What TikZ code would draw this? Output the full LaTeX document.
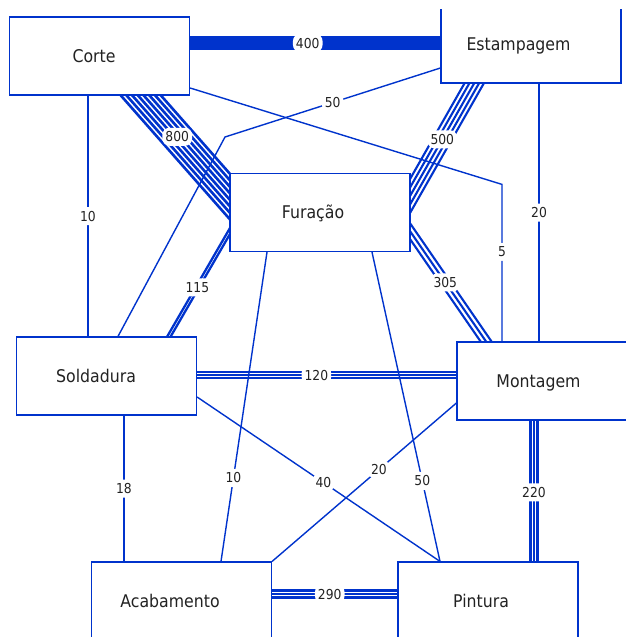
\documentclass[tikz,border=0pt]{standalone}
\usepackage{fontspec}
\setmainfont{DejaVu Sans}[FakeStretch=0.9]
\usetikzlibrary{calc,backgrounds}

\definecolor{edgeblue}{RGB}{0,51,204}
\definecolor{txt}{RGB}{34,34,34}

% n parallel lines between two points, with a white label
\newcommand{\bundle}[7]{%
    \coordinate (ea) at ($(#1)!-20pt!(#2)$);
    \coordinate (eb) at ($(#2)!-20pt!(#1)$);
    \foreach \k in {1,...,#3}{
        \pgfmathsetmacro{\bandoff}{(\k-(#3+1)/2)*#4}
        \draw[band, line width=#5pt] ($(ea)!\bandoff pt!90:(eb)$) -- ($(eb)!\bandoff pt!-90:(ea)$);
    }
    \path (#1) -- node[wlabel, pos=#7] {#6} (#2);
}

\begin{document}
\begin{tikzpicture}[x=1pt, y=-1pt,
    box/.style={draw=edgeblue, line width=1.2pt, fill=white, minimum width=180pt,
        minimum height=78pt, inner sep=0pt},
    nodetxt/.style={text=txt, font=\fontsize{17.5}{21}\selectfont, text height=12.8pt, text depth=0pt},
    wlabel/.style={fill=white, text=txt, font=\fontsize{13.7}{16}\selectfont, text height=10pt,
        text depth=0pt, inner xsep=3pt, inner ysep=4pt, rounded corners=7pt},
    link/.style={draw=edgeblue, line width=1.4pt},
    band/.style={draw=edgeblue},]
    \useasboundingbox (0,0) rectangle (626,637);
    \clip (0,9) rectangle (626,637);
    %\draw (0,0) rectangle (626,637);

    \node[box, label={[nodetxt, xshift=-5.5pt]center:Corte}] (corte) at (99.5,56) {};
    \node[box, label={[nodetxt, xshift=-12.5pt]center:Estampagem}] (estampagem) at (531,44) {};
    \node[box, label={[nodetxt, xshift=-7pt]center:Furação}] (furacao) at (320,212.5) {};
    \node[box, label={[nodetxt, xshift=-10.5pt]center:Soldadura}] (soldadura) at (106.5,376) {};
    \node[box, label={[nodetxt, xshift=-8.5pt]center:Montagem}] (montagem) at (547,381) {};
    \node[box, label={[nodetxt, xshift=-11.5pt]center:Acabamento}] (acabamento) at (181.5,601) {};
    \node[box, label={[nodetxt, xshift=-7pt]center:Pintura}] (pintura) at (488,601) {};

    % ends of the bundles
    \coordinate (c-e) at ($(corte.east)+(0,-13)$);
    \coordinate (e-c) at (c-e -| estampagem.west);
    \coordinate (c-f) at ($(corte.south)+(41.5,0)$);
    \coordinate (f-c) at ($(furacao.west)+(0,-16.5)$);
    \coordinate (e-f) at ($(estampagem.south)+(-57,0)$);
    \coordinate (f-e) at ($(furacao.east)+(0,-17.5)$);
    \coordinate (f-m) at ($(furacao.east)+(0,19.5)$);
    \coordinate (m-f) at ($(montagem.north)+(-61,0)$);
    \coordinate (f-s) at ($(furacao.west)+(0,19.5)$);
    \coordinate (s-f) at ($(soldadura.north)+(62.5,0)$);
    \coordinate (s-m) at ($(soldadura.east)+(0,-1)$);
    \coordinate (m-s) at (s-m -| montagem.west);
    \coordinate (m-p) at ($(montagem.south)+(-13,0)$);
    \coordinate (p-m) at (m-p |- pintura.north);
    \coordinate (a-p) at ($(acabamento.east)+(0,-7)$);
    \coordinate (p-a) at (a-p -| pintura.west);

    % ends of the single lines
    \coordinate (c-s) at ($(corte.south)+(-11.5,0)$);
    \coordinate (s-c) at (c-s |- soldadura.north);
    \coordinate (c-m) at ($(corte.east)+(0,32)$);
    \coordinate (m-c) at ($(montagem.north)+(-45,0)$);
    \coordinate (cm-bend) at ($(m-c)+(0,-157)$);
    \coordinate (e-s) at ($(estampagem.west)+(0,24)$);
    \coordinate (s-e) at ($(soldadura.north)+(11.5,0)$);
    \coordinate (es-bend) at (225,137);
    \coordinate (e-m) at ($(estampagem.south)+(8,0)$);
    \coordinate (m-e) at (e-m |- montagem.north);
    \coordinate (f-a) at ($(furacao.south)+(-53,0)$);
    \coordinate (a-f) at ($(acabamento.north)+(39.5,0)$);
    \coordinate (f-p) at ($(furacao.south)+(52,0)$);
    \coordinate (p-f) at ($(pintura.north)+(-48,0)$);
    \coordinate (s-a) at ($(soldadura.south)+(17.5,0)$);
    \coordinate (a-s) at (s-a |- acabamento.north);
    \coordinate (s-p) at ($(soldadura.east)+(0,21)$);
    \coordinate (m-a) at ($(montagem.west)+(0,22)$);

    \begin{scope}[on background layer]
        \draw[link] (c-s) -- node[wlabel] {10} (s-c);
        \draw[link] (c-m) -- (cm-bend) -- node[wlabel, pos=0.43] {5} (m-c);
        \draw[link] (e-s) -- node[wlabel] {50} (es-bend) -- (s-e);
        \draw[link] (e-m) -- node[wlabel] {20} (m-e);
        \draw[link] (f-a) -- node[wlabel, pos=0.73] {10} (a-f);
        \draw[link] (f-p) -- node[wlabel, pos=0.74] {50} (p-f);
        \draw[link] (s-a) -- node[wlabel] {18} (a-s);
        \draw[link] (s-p) -- node[wlabel, pos=0.52] {40} (p-f);
        \draw[link] (m-a) -- node[wlabel, pos=0.42] {20} (acabamento.north east);

        \bundle{c-e}{e-c}{4}{3.6}{3.8}{400}{0.47}
        \bundle{c-f}{f-c}{8}{4.3}{2.6}{800}{0.41}
        \bundle{e-f}{f-e}{5}{4.2}{2.1}{500}{0.5}
        \bundle{f-m}{m-f}{3}{4.5}{2.1}{305}{0.46}
        \bundle{f-s}{s-f}{2}{3}{2.3}{115}{0.53}
        \bundle{s-m}{m-s}{3}{3}{2}{120}{0.46}
        \bundle{m-p}{p-m}{3}{3.6}{2.3}{220}{0.51}
        \bundle{a-p}{p-a}{3}{3.6}{2.3}{290}{0.46}
    \end{scope}

\end{tikzpicture}
\end{document}
